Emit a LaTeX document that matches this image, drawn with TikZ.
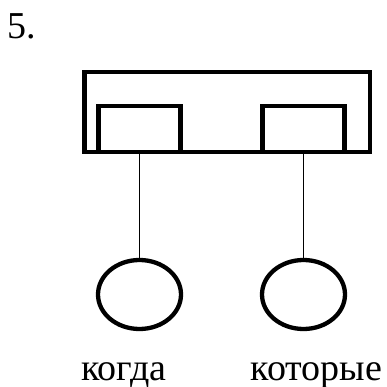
\documentclass[tikz,border=0pt]{standalone}
\usepackage{fontspec}
\setmainfont{Liberation Serif}
\usetikzlibrary{shapes.geometric}

\def\SchemeFrameLW{4.3pt}
\def\SchemeLinkLW{1.3pt}
\def\SchemeSlotWidth{82pt}
\def\SchemeSlotHeight{46pt}
\def\SchemeWordWidth{83pt}
\def\SchemeWordHeight{69pt}
\newcommand{\SchemeStyles}{%
  \tikzset{
    schframe/.style={rectangle, draw, line width=\SchemeFrameLW, inner sep=0pt},
    schouter/.style={schframe, minimum width=285.5pt, minimum height=80pt},
    schslot/.style={schframe, minimum width=\SchemeSlotWidth,
      minimum height=\SchemeSlotHeight},
    schword/.style={ellipse, draw, line width=\SchemeFrameLW, inner sep=0pt,
      minimum width=\SchemeWordWidth, minimum height=\SchemeWordHeight},
    schlink/.style={line width=\SchemeLinkLW},
    schlabel/.style={font=\fontsize{38}{42}\selectfont, inner sep=0pt},
  }%
}

\begin{document}
\begin{tikzpicture}[x=1pt, y=-1pt]
    \SchemeStyles
    \useasboundingbox (0,0) rectangle (386,387);
    % number of the scheme
    \node[schlabel, anchor=base west] (num) at (7,39) {5.};
    % main clause with two slots
    \node[schouter] (frame) at (227.25,112) {};
    \node[schslot] (slotL) at (139.5,129) {};
    \node[schslot] (slotR) at (303.5,129) {};
    % subordinate clauses
    \node[schword] (wordL) at (139.5,294.5) {};
    \node[schword] (wordR) at (303.5,294.5) {};
    \draw[schlink] (slotL.south) -- (wordL.north);
    \draw[schlink] (slotR.south) -- (wordR.north);
    \node[schlabel, anchor=base] (textL) at (124,380) {когда};
    \node[schlabel, anchor=base] (textR) at (316.5,380) {которые};
  \end{tikzpicture}
\end{document}
